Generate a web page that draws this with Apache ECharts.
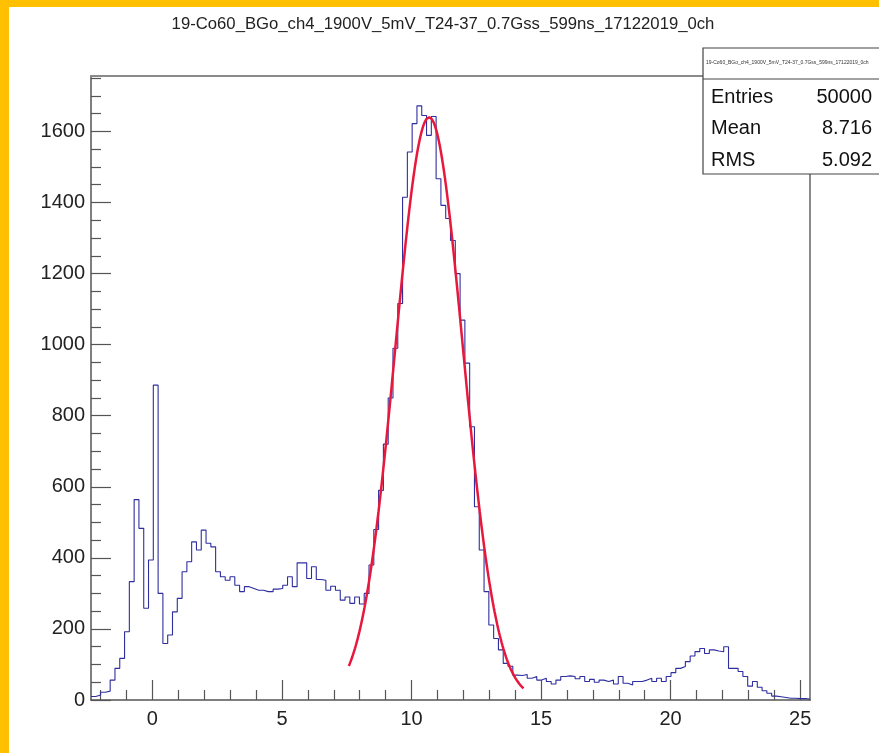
<!DOCTYPE html>
<html>
<head>
<meta charset="utf-8">
<script src="https://cdn.jsdelivr.net/npm/echarts@6/dist/echarts.min.js"></script>
<style>
  html, body { margin: 0; padding: 0; background: #ffffff; }
  #chart { width: 879px; height: 753px; }
</style>
</head>
<body>
<div id="chart"></div>
<script>
// Histogram definition
const histTitle = '19-Co60_BGo_ch4_1900V_5mV_T24-37_0.7Gss_599ns_17122019_0ch';
const xMin = -2.37;
const xMax = 25.38;
const nBins = 150;

// Bin contents, bin 0 .. bin 149
const binContents = [
  10, 14, 22, 25, 56, 89, 117, 192, 333, 564,
  483, 258, 394, 886, 300, 159, 183, 248, 286, 361,
  389, 445, 422, 478, 441, 431, 361, 347, 337, 347,
  323, 305, 319, 314, 309, 309, 305, 305, 312, 314,
  323, 347, 319, 386, 386, 342, 375, 339, 337, 309,
  320, 309, 281, 290, 272, 290, 270, 300, 380, 480,
  590, 720, 850, 990, 1116, 1415, 1542, 1622, 1672, 1645,
  1589, 1642, 1467, 1392, 1355, 1293, 1200, 1069, 948, 769,
  544, 422, 305, 211, 173, 141, 103, 95, 70, 69,
  72, 61, 66, 56, 61, 52, 45, 56, 66, 68,
  66, 60, 66, 52, 58, 50, 56, 52, 56, 45,
  66, 47, 42, 52, 52, 56, 61, 52, 61, 52,
  66, 77, 89, 94, 108, 124, 136, 145, 131, 141,
  138, 136, 150, 89, 89, 80, 66, 39, 52, 36,
  26, 19, 11, 9, 7, 5, 5, 4, 4, 3
];

// Gaussian fit (gaus) parameters and its fit range
const fitConstant = 1640;
const fitMean = 10.68;
const fitSigma = 1.30;
const fitRange = [7.58, 14.32];

// Statistics box
const statsLabels = ['Entries', 'Mean', 'RMS'];
const statsValues = ['50000', '8.716', '5.092'];

// Axis ticks
const xMajorTicks = [0, 5, 10, 15, 20, 25];
const xMinorTicks = [-2, -1, 1, 2, 3, 4, 6, 7, 8, 9, 11, 12, 13, 14, 16, 17, 18, 19, 21, 22, 23, 24];
const yMajorTicks = [0, 200, 400, 600, 800, 1000, 1200, 1400, 1600];
const yMinorTicks = [50, 100, 150, 250, 300, 350, 450, 500, 550, 650, 700, 750, 850, 900, 950,
  1050, 1100, 1150, 1250, 1300, 1350, 1450, 1500, 1550, 1650, 1700, 1750];
const yMax = 1756;

// Step outline: each bin starts at its low edge; the last point closes the final bin
const binWidth = (xMax - xMin) / nBins;
const histPoints = binContents.map((v, i) => [xMin + i * binWidth, v]);
histPoints.push([xMax, binContents[nBins - 1]]);

// Fit function evaluated over its range
const fitPoints = [];
const nFitSteps = 200;
for (let i = 0; i <= nFitSteps; i++) {
  const x = fitRange[0] + (fitRange[1] - fitRange[0]) * i / nFitSteps;
  const d = (x - fitMean) / fitSigma;
  fitPoints.push([x, fitConstant * Math.exp(-0.5 * d * d)]);
}

const FONT = "'Liberation Sans', Arial, Helvetica, sans-serif";
const AXIS_COLOR = '#555555';
const FRAME_COLOR = '#8a8a8a';
const plainNumber = v => String(v);

const chart = echarts.init(document.getElementById('chart'), null, { renderer: 'canvas' });

const gridLeft = 91, gridTop = 76, gridWidth = 719, gridHeight = 624;

const statsX = 703, statsY = 48, statsW = 180, statsTitleH = 31, statsRowH = 31.5;
const statsElems = [
  { type: 'rect', shape: { x: statsX, y: statsY, width: statsW, height: 126 },
    style: { fill: '#ffffff', stroke: '#444444', lineWidth: 1.2 }, z: 100 },
  { type: 'line', shape: { x1: statsX, y1: statsY + statsTitleH, x2: statsX + statsW, y2: statsY + statsTitleH },
    style: { stroke: '#444444', lineWidth: 1 }, z: 101 },
  { type: 'text', x: statsX + 3, y: statsY + 15,
    style: { text: histTitle, font: '5px ' + FONT, fill: '#333', textVerticalAlign: 'middle' }, z: 101 }
];
statsLabels.forEach((lab, i) => {
  const cy = 97 + statsRowH * i;
  statsElems.push({ type: 'text', x: 711, y: cy,
    style: { text: lab, font: '20px ' + FONT, fill: '#111', textVerticalAlign: 'middle', textAlign: 'left' }, z: 101 });
  statsElems.push({ type: 'text', x: 872, y: cy,
    style: { text: statsValues[i], font: '20px ' + FONT, fill: '#111', textVerticalAlign: 'middle', textAlign: 'right' }, z: 101 });
});

const option = {
  backgroundColor: '#ffffff',
  animation: false,
  title: {
    text: histTitle,
    left: 438, top: 11,
    textAlign: 'center',
    textStyle: { fontFamily: FONT, fontSize: 16.7, fontWeight: 'normal', color: '#222' }
  },
  grid: { left: gridLeft, top: gridTop, width: gridWidth, height: gridHeight, containLabel: false },
  xAxis: [
    { type: 'value', min: xMin, max: xMax, position: 'bottom',
      axisLine: { show: true, onZero: false, lineStyle: { color: AXIS_COLOR, width: 1.5 } },
      axisTick: { show: true, inside: true, length: 20, customValues: xMajorTicks, lineStyle: { color: AXIS_COLOR, width: 1.2 } },
      axisLabel: { show: true, customValues: xMajorTicks, formatter: plainNumber, margin: 9, fontSize: 20, fontFamily: FONT, color: '#222' },
      splitLine: { show: false } },
    { type: 'value', min: xMin, max: xMax, position: 'bottom',
      axisLine: { show: false, onZero: false },
      axisTick: { show: true, inside: true, length: 10, customValues: xMinorTicks, lineStyle: { color: AXIS_COLOR, width: 1.2 } },
      axisLabel: { show: false }, splitLine: { show: false } },
    { type: 'value', min: xMin, max: xMax, position: 'top',
      axisLine: { show: true, onZero: false, lineStyle: { color: FRAME_COLOR, width: 2 } },
      axisTick: { show: false }, axisLabel: { show: false }, splitLine: { show: false } }
  ],
  yAxis: [
    { type: 'value', min: 0, max: yMax, position: 'left',
      axisLine: { show: true, onZero: false, lineStyle: { color: AXIS_COLOR, width: 1.5 } },
      axisTick: { show: true, inside: true, length: 20, customValues: yMajorTicks, lineStyle: { color: AXIS_COLOR, width: 1.2 } },
      axisLabel: { show: true, customValues: yMajorTicks, formatter: plainNumber, margin: 6, fontSize: 20, fontFamily: FONT, color: '#222' },
      splitLine: { show: false } },
    { type: 'value', min: 0, max: yMax, position: 'left',
      axisLine: { show: false, onZero: false },
      axisTick: { show: true, inside: true, length: 10, customValues: yMinorTicks, lineStyle: { color: AXIS_COLOR, width: 1.2 } },
      axisLabel: { show: false }, splitLine: { show: false } },
    { type: 'value', min: 0, max: yMax, position: 'right',
      axisLine: { show: true, onZero: false, lineStyle: { color: FRAME_COLOR, width: 2 } },
      axisTick: { show: false }, axisLabel: { show: false }, splitLine: { show: false } }
  ],
  series: [
    { name: 'histogram', type: 'line', xAxisIndex: 0, yAxisIndex: 0, step: 'end',
      data: histPoints, showSymbol: false, symbol: 'none', clip: true,
      lineStyle: { color: '#2e2e9e', width: 1.1 }, z: 3 },
    { name: 'gaus fit', type: 'line', xAxisIndex: 0, yAxisIndex: 0,
      data: fitPoints, showSymbol: false, symbol: 'none', smooth: false, clip: true,
      lineStyle: { color: '#e8183c', width: 2.5 }, z: 4 }
  ],
  graphic: [
    { type: 'rect', shape: { x: 0, y: 0, width: 9, height: 753 }, style: { fill: '#ffc000' }, z: 0 },
    { type: 'rect', shape: { x: 0, y: 0, width: 879, height: 7 }, style: { fill: '#ffc000' }, z: 0 },
    ...statsElems
  ]
};

chart.setOption(option);
</script>
</body>
</html>
